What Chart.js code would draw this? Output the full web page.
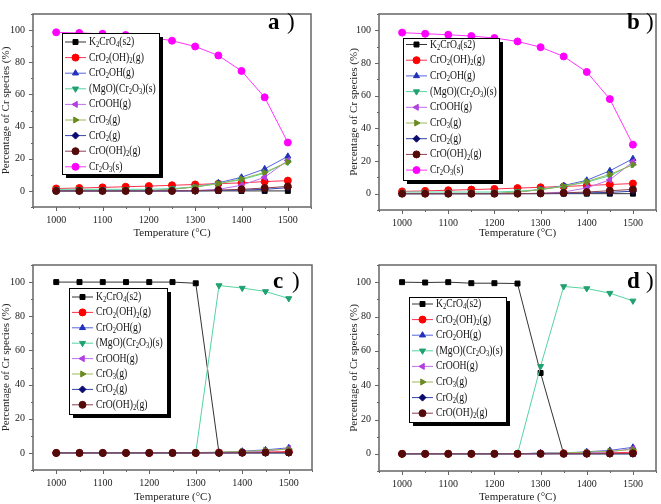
<!DOCTYPE html>
<html>
<head>
<meta charset="utf-8">
<script src="https://cdn.jsdelivr.net/npm/chart.js@4.4.0/dist/chart.umd.min.js"></script>
<style>
  html, body { margin: 0; padding: 0; background: #fff; }
  #wrap { position: relative; width: 661px; height: 504px; }
  canvas { position: absolute; }
</style>
</head>
<body>
<div id="wrap">
  <canvas id="chartA" width="330" height="250" style="left:0;top:0"></canvas>
  <canvas id="chartB" width="331" height="250" style="left:330px;top:0"></canvas>
  <canvas id="chartC" width="330" height="254" style="left:0;top:250px"></canvas>
  <canvas id="chartD" width="331" height="254" style="left:330px;top:250px"></canvas>
</div>
<script>
var temps = [1000, 1050, 1100, 1150, 1200, 1250, 1300, 1350, 1400, 1450, 1500];
var xTicks = [1000, 1100, 1200, 1300, 1400, 1500];
var yTicks = [0, 20, 40, 60, 80, 100];
var speciesLabels = ["K_2CrO_4(s2)", "CrO_2(OH)_2(g)", "CrO_2OH(g)", "(MgO)(Cr_2O_3)(s)", "CrOOH(g)",
  "CrO_3(g)", "CrO_2(g)", "CrO(OH)_2(g)", "Cr_2O_3(s)"];
var panelTags = ["a", "b", "c", "d"];

// panel a
var aK2CrO4 = [0, 0, 0, 0, 0, 0, 0, 0, 0, 0, 0];
var aCrO2OH2 = [1.5, 1.8, 2.2, 2.6, 3.0, 3.5, 4.0, 4.5, 5.0, 5.8, 6.4];
var aCrO2OH = [0, 0, 0, 0, 0, 1, 2.5, 5, 8.5, 13.7, 21.5];
var aMgOCr2O3 = [1, 1, 1, 1, 1, 1.5, 2.5, 4.5, 7, 11, 18];
var aCrOOH = [0, 0, 0, 0, 0, 0, 0.2, 1, 3.5, 8.5, 19];
var aCrO3 = [0, 0, 0, 0, 0, 1, 2.5, 4.5, 7.5, 11.5, 18];
var aCrO2 = [0, 0, 0, 0, 0, 0, 0, 0.3, 0.5, 1, 2];
var aCrOOH2 = [0, 0, 0, 0, 0, 0, 0.2, 0.5, 1, 1.8, 2.8];
var aCr2O3 = [98.6, 98.2, 97.7, 96.9, 95.7, 93.4, 89.8, 84.2, 74.6, 58.2, 30.1];

// panel b
var bK2CrO4 = [0, 0, 0, 0, 0, 0, 0, 0, 0, 0, 0];
var bCrO2OH2 = [1.4, 1.7, 2.1, 2.5, 2.9, 3.4, 3.9, 4.4, 5.0, 5.6, 6.2];
var bCrO2OH = [0, 0, 0, 0, 0, 1, 2.5, 5, 8.2, 14, 21.4];
var bMgOCr2O3 = [1, 1, 1, 1, 1, 1.5, 2.5, 4.5, 7, 11, 18];
var bCrOOH = [0, 0, 0, 0, 0, 0, 0.2, 1, 3.5, 8.5, 19.5];
var bCrO3 = [0, 0, 0, 0, 0, 1, 2.5, 4.5, 7.5, 11.8, 17.7];
var bCrO2 = [0, 0, 0, 0, 0, 0, 0, 0.2, 0.5, 0.8, 1.5];
var bCrOOH2 = [0, 0, 0, 0, 0, 0, 0.2, 0.5, 1, 1.8, 2.6];
var bCr2O3 = [98.6, 97.9, 97.3, 96.5, 95.3, 93.2, 89.7, 84.0, 74.5, 57.9, 30.0];

// panel c
var cK2CrO4 = [100, 100, 100, 100, 100, 100, 99.3, 0, 0, 0, 0];
var cCrO2OH2 = [0, 0, 0, 0, 0, 0, 0, 0.2, 0.3, 0.5, 0.8];
var cCrO2OH = [0, 0, 0, 0, 0, 0, 0, 0.3, 1, 1.8, 3];
var cMgOCr2O3 = [0, 0, 0, 0, 0, 0, 0, 98, 96.5, 94.5, 90.4];
var cCrOOH = [0, 0, 0, 0, 0, 0, 0, 0.2, 0.5, 1, 2.5];
var cCrO3 = [0, 0, 0, 0, 0, 0, 0.2, 0.5, 0.8, 1.5, 2.2];
var cCrO2 = [0, 0, 0, 0, 0, 0, 0, 0, 0, 0, 0];
var cCrOOH2 = [0, 0, 0, 0, 0, 0, 0, 0, 0.1, 0.2, 0.3];

// panel d
var dK2CrO4 = [100, 99.8, 100, 99.4, 99.4, 99.2, 47.1, 0, 0, 0, 0];
var dCrO2OH2 = [0, 0, 0, 0, 0, 0, 0.2, 0.3, 0.4, 0.6, 0.9];
var dCrO2OH = [0, 0, 0, 0, 0, 0, 0.5, 0.5, 1.2, 2, 3.8];
var dMgOCr2O3 = [0, 0, 0, 0, 0, 0, 51, 97.5, 96.3, 93.6, 89.1];
var dCrOOH = [0, 0, 0, 0, 0, 0, 0, 0.2, 0.6, 1.2, 3];
var dCrO3 = [0, 0, 0, 0, 0, 0, 0.3, 0.5, 1, 1.5, 2.5];
var dCrO2 = [0, 0, 0, 0, 0, 0, 0, 0, 0, 0, 0];
var dCrOOH2 = [0, 0, 0, 0, 0, 0, 0, 0, 0.1, 0.2, 0.3];

var lineColors = ["#333333", "#ff3050", "#5566dd", "#55d4a0", "#c070ee", "#99b855", "#3344aa", "#8b4050", "#ff33ff"];
var markerColors = ["#000000", "#ff0000", "#2233bb", "#22a070", "#b040e0", "#6a8a1f", "#0a0a70", "#550a0a", "#ff00ff"];
var markerStyles = ["rect", "circle", "triangle", "triangle", "triangle", "triangle", "rectRot", "circle", "circle"];
var markerRotation = [0, 0, 0, 180, 270, 90, 0, 0, 0];

var serif = "'Liberation Serif', 'Times New Roman', serif";

function drawRich(ctx, text, x, y, size, squeeze) {
  // '_' makes the next character a subscript
  ctx.save();
  ctx.translate(x, y);
  ctx.scale(squeeze, 1);
  var px = 0, i = 0;
  while (i < text.length) {
    var ch = text[i];
    if (ch === "_" && i + 1 < text.length) {
      ctx.font = (size * 0.68) + "px " + serif;
      ctx.fillText(text[i + 1], px, size * 0.28);
      px += ctx.measureText(text[i + 1]).width;
      i += 2;
    } else {
      ctx.font = size + "px " + serif;
      ctx.fillText(ch, px, 0);
      px += ctx.measureText(ch).width;
      i += 1;
    }
  }
  ctx.restore();
}

var boxLegend = {
  id: "boxLegend",
  afterDraw: function (chart, args, opts) {
    var ctx = chart.ctx;
    ctx.save();
    ctx.fillStyle = "#000";
    ctx.fillRect(opts.x + 4, opts.y + 4, opts.w, opts.h);
    ctx.fillStyle = "#fff";
    ctx.fillRect(opts.x, opts.y, opts.w, opts.h);
    ctx.strokeStyle = "#000";
    ctx.lineWidth = 1;
    ctx.strokeRect(opts.x + 0.5, opts.y + 0.5, opts.w, opts.h);
    chart.data.datasets.forEach(function (ds, i) {
      var cy = opts.rowTop + i * opts.rowStep;
      ctx.strokeStyle = lineColors[i];
      ctx.lineWidth = 1;
      ctx.beginPath();
      ctx.moveTo(opts.x + 3, cy);
      ctx.lineTo(opts.x + 24, cy);
      ctx.stroke();
      ctx.fillStyle = markerColors[i];
      ctx.strokeStyle = markerColors[i];
      Chart.helpers.drawPoint(ctx, { pointStyle: markerStyles[i], rotation: markerRotation[i], radius: 3.5, borderWidth: 1 }, opts.x + 13.5, cy);
      ctx.fillStyle = "#111";
      ctx.textBaseline = "middle";
      ctx.textAlign = "left";
      drawRich(ctx, speciesLabels[i], opts.x + 27, cy, 11.5, 0.84);
    });
    ctx.restore();
  }
};

var frame = {
  id: "frame",
  afterDatasetsDraw: function (chart) {
    var a = chart.chartArea, ctx = chart.ctx;
    var xs = chart.scales.x, ys = chart.scales.y;
    ctx.save();
    ctx.strokeStyle = "#666";
    ctx.lineWidth = 1.5;
    ctx.strokeRect(a.left, a.top, a.right - a.left, a.bottom - a.top);
    ctx.lineWidth = 1;
    ctx.beginPath();
    var v, p, len;
    for (v = 950; v <= 1550; v += 50) {
      p = Math.round(xs.getPixelForValue(v)) + 0.5;
      len = v % 100 === 0 ? 4 : 2;
      ctx.moveTo(p, a.bottom);
      ctx.lineTo(p, a.bottom + len);
    }
    for (v = -10; v <= 110; v += 10) {
      p = Math.round(ys.getPixelForValue(v)) + 0.5;
      len = v % 20 === 0 ? 4 : 2;
      ctx.moveTo(a.left, p);
      ctx.lineTo(a.left - len, p);
    }
    ctx.stroke();
    ctx.restore();
  }
};

var panelTag = {
  id: "panelTag",
  afterDraw: function (chart, args, opts) {
    var ctx = chart.ctx;
    ctx.save();
    ctx.fillStyle = "#000";
    ctx.textBaseline = "middle";
    ctx.textAlign = "left";
    ctx.font = "bold 23px " + serif;
    ctx.fillText(opts.text, opts.x, opts.y);
    ctx.font = "23px " + serif;
    ctx.fillText(")", opts.x + 19, opts.y);
    ctx.restore();
  }
};

function makePanel(id, series, cfg) {
  var datasets = series.map(function (vals, i) {
    return {
      label: speciesLabels[i],
      data: vals.map(function (y, k) { return { x: temps[k], y: y }; }),
      borderColor: lineColors[i],
      borderWidth: 1,
      pointBackgroundColor: markerColors[i],
      pointBorderColor: markerColors[i],
      pointBorderWidth: 1,
      pointRadius: 3.5,
      pointStyle: markerStyles[i],
      pointRotation: markerRotation[i],
      tension: 0,
      order: -i
    };
  });
  var ctx = document.getElementById(id).getContext("2d");
  return new Chart(ctx, {
    type: "line",
    data: { datasets: datasets },
    plugins: [frame, boxLegend, panelTag],
    options: {
      responsive: false,
      animation: false,
      layout: { padding: { left: cfg.padL, right: cfg.padR, top: cfg.padT, bottom: cfg.padB } },
      plugins: {
        legend: { display: false },
        tooltip: { enabled: false },
        boxLegend: cfg.legend,
        panelTag: cfg.tag
      },
      scales: {
        x: {
          type: "linear",
          min: 950,
          max: 1550,
          afterFit: function (s) { s.height = cfg.xH; },
          afterBuildTicks: function (s) { s.ticks = xTicks.map(function (v) { return { value: v }; }); },
          grid: { display: false, drawTicks: false },
          border: { display: false },
          ticks: {
            font: { family: serif, size: 10 }, color: "#222", padding: 7, maxRotation: 0,
            callback: function (v) { return String(v); }
          },
          title: { display: true, text: "Temperature (°C)", font: { family: serif, size: 11 }, color: "#222", padding: 0 }
        },
        y: {
          min: -10,
          max: 110,
          afterFit: function (s) { s.width = cfg.yW; },
          afterBuildTicks: function (s) { s.ticks = yTicks.map(function (v) { return { value: v }; }); },
          grid: { display: false, drawTicks: false },
          border: { display: false },
          ticks: { font: { family: serif, size: 10 }, color: "#222", padding: 8 },
          title: { display: true, text: "Percentage of Cr species (%)", font: { family: serif, size: 11 }, color: "#222", padding: 0 }
        }
      }
    }
  });
}

makePanel("chartA",
  [aK2CrO4, aCrO2OH2, aCrO2OH, aMgOCr2O3, aCrOOH, aCrO3, aCrO2, aCrOOH2, aCr2O3],
  { padL: 0, yW: 33, padR: 19, padT: 3, padB: 10, xH: 33,
    legend: { x: 62, y: 33, w: 97, h: 141, rowTop: 42, rowStep: 15.6 },
    tag: { text: panelTags[0], x: 268, y: 23 } });

makePanel("chartB",
  [bK2CrO4, bCrO2OH2, bCrO2OH, bMgOCr2O3, bCrOOH, bCrO3, bCrO2, bCrOOH2, bCr2O3],
  { padL: 18, yW: 31, padR: 3, padT: 5, padB: 10, xH: 30,
    legend: { x: 73, y: 38, w: 96, h: 142, rowTop: 44.5, rowStep: 15.7 },
    tag: { text: panelTags[1], x: 297, y: 23 } });

makePanel("chartC",
  [cK2CrO4, cCrO2OH2, cCrO2OH, cMgOCr2O3, cCrOOH, cCrO3, cCrO2, cCrOOH2],
  { padL: 0, yW: 33, padR: 18, padT: 15, padB: 0, xH: 34,
    legend: { x: 69, y: 38, w: 98, h: 126, rowTop: 47, rowStep: 15.4 },
    tag: { text: panelTags[2], x: 273, y: 32 } });

makePanel("chartD",
  [dK2CrO4, dCrO2OH2, dCrO2OH, dMgOCr2O3, dCrOOH, dCrO3, dCrO2, dCrOOH2],
  { padL: 18, yW: 31, padR: 3, padT: 15, padB: 0, xH: 33,
    legend: { x: 79, y: 47, w: 97, h: 125, rowTop: 54, rowStep: 15.6 },
    tag: { text: panelTags[3], x: 297, y: 32 } });
</script>
</body>
</html>
